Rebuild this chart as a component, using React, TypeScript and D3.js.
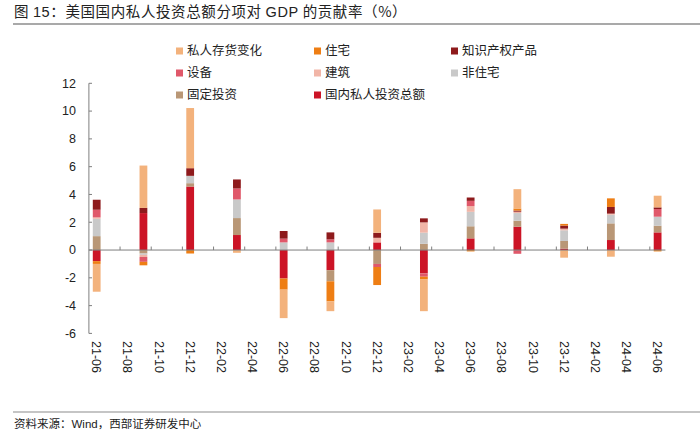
import React from "react";
import * as d3 from "d3";

const categories = ["21-06","21-09","21-12","22-03","22-06","22-09","22-12","23-03","23-06","23-09","23-12","24-03","24-06"];
const tickLabels = ["21-06","21-08","21-10","21-12","22-02","22-04","22-06","22-08","22-10","22-12","23-02","23-04","23-06","23-08","23-10","23-12","24-02","24-04","24-06"];
const yTicks = [-6, -4, -2, 0, 2, 4, 6, 8, 10, 12];

const seriesNames = ["国内私人投资总额","固定投资","非住宅","建筑","设备","知识产权产品","住宅","私人存货变化"];
const seriesColors = ["#CC1426","#B99776","#C9C9C9","#F1B5A7","#E0586A","#8E1A1C","#EE7E14","#F3B27C"];

const totalInv = [-0.8, 2.66, 4.57, 1.08, -2.05, -1.45, 0.55, -1.68, 0.84, 1.68, 0.1, 0.72, 1.27];
const fixedInv = [1.0, -0.25, 0.24, 1.22, 0, -0.8, -1.0, 0.45, 0.87, 0.43, 0.55, 1.2, 0.48];
const nonRes = [1.25, -0.1, 0.53, 1.34, 0.55, 0.55, 0, 0.8, 1.04, 0.55, 0.77, 0.62, 0.65];
const structures = [0.1, -0.15, 0, 0, 0, 0, 0.33, 0.74, 0.41, 0.1, 0.12, 0.08, 0];
const equipment = [0.55, -0.35, 0, 0.79, 0.27, 0.22, -0.22, -0.24, 0.38, -0.27, 0, 0, 0.55];
const ipProducts = [0.72, 0.37, 0.55, 0.65, 0.55, 0.5, 0.36, 0.29, 0.24, 0.08, 0.22, 0.48, 0.12];
const residential = [-0.2, -0.25, -0.25, 0, -0.8, -1.45, -1.3, -0.2, -0.1, 0.15, 0.12, 0.62, -0.1];
const inventories = [-2.0, 3.05, 4.33, -0.2, -2.05, -0.7, 1.68, -2.28, 0, 1.39, -0.55, -0.48, 0.84];

const seriesValues = [totalInv, fixedInv, nonRes, structures, equipment, ipProducts, residential, inventories];

// month list from 21-06 to 24-06
const months: string[] = [];
for (let i = 0; i <= 36; i++) {
  const m = 6 + i - 1;
  const y = 21 + Math.floor(m / 12);
  const mm = (m % 12) + 1;
  months.push(`${y}-${String(mm).padStart(2, "0")}`);
}

const W = 700, H = 433;
const FONT = "'Liberation Sans', Arial, sans-serif";
const CJK = "'Noto Sans CJK SC', sans-serif";

export default function App() {
  const x = d3.scaleBand<string>().domain(months).range([88.9, 665.4]).padding(0);
  const y = d3.scaleLinear().domain([-6, 12]).range([333.4, 83.3]);
  const bw = x.bandwidth() * 0.5;

  const rows = categories.map((c, i) => {
    const r: any = { cat: c };
    seriesNames.forEach((n, k) => (r[n] = seriesValues[k][i]));
    return r;
  });
  const stack = d3.stack<any>().keys(seriesNames).order(d3.stackOrderNone).offset(d3.stackOffsetDiverging);
  const layers = stack(rows);

  const legendOrder = [...seriesNames].reverse();
  const colX = [176, 314, 451];
  const rowY = [51, 73, 95];

  return (
    <svg width={W} height={H} style={{ position: "absolute", left: 0, top: 0, background: "#fff" }}>
      <text x={14} y={17} fontFamily={CJK} fontSize={14.5} letterSpacing={0.6} fill="#222">
        图 <tspan fontFamily={FONT}>15</tspan>：美国国内私人投资总额分项对 <tspan fontFamily={FONT}>GDP</tspan> 的贡献率（%）
      </text>
      <line x1={13} x2={700} y1={24} y2={24} stroke="#8c8c8c" strokeWidth={1.6} />

      {legendOrder.map((n, i) => {
        const k = seriesNames.indexOf(n);
        const cx = colX[i % 3];
        const cy = rowY[Math.floor(i / 3)];
        return (
          <g key={n}>
            <rect x={cx} y={cy - 3.5} width={7} height={7} fill={seriesColors[k]} />
            <text x={cx + 11} y={cy} dy="0.35em" fontFamily={CJK} fontSize={12.5} fill="#222">{n}</text>
          </g>
        );
      })}

      {layers.map((layer, k) => (
        <g key={layer.key} fill={seriesColors[k]}>
          {layer.map((d, i) => {
            const y0 = y(d[0]), y1 = y(d[1]);
            const top = Math.min(y0, y1), h = Math.abs(y1 - y0);
            if (h < 0.01) return null;
            const cx = (x(categories[i]) as number) + x.bandwidth() / 2;
            return <rect key={i} x={cx - bw / 2} y={top} width={bw} height={h} />;
          })}
        </g>
      ))}

      {/* y axis */}
      <line x1={88.9} x2={88.9} y1={y(12)} y2={y(-6)} stroke="#7f7f7f" strokeWidth={1} />
      {yTicks.map((t) => (
        <g key={t}>
          <line x1={88.9} x2={92} y1={y(t)} y2={y(t)} stroke="#7f7f7f" />
          <text x={76} y={y(t)} dy="0.35em" textAnchor="end" fontFamily={FONT} fontSize={12.5} fill="#222">{t}</text>
        </g>
      ))}

      {/* x axis at zero */}
      <line x1={88.9} x2={665.4} y1={y(0)} y2={y(0)} stroke="#7f7f7f" strokeWidth={1} />
      {months.map((m, i) =>
        i > 0 && i % 2 === 0 ? (
          <line key={m} x1={x(m) as number} x2={x(m) as number} y1={y(0)} y2={y(0) - 3.5} stroke="#7f7f7f" />
        ) : null
      )}
      {tickLabels.map((l) => {
        const cx = (x(l) as number) + x.bandwidth() / 2;
        return (
          <text key={l} transform={`translate(${cx},341) rotate(90)`} dy="0.35em" fontFamily={FONT} fontSize={12.5} fill="#222">{l}</text>
        );
      })}

      <line x1={13} x2={700} y1={412} y2={412} stroke="#8c8c8c" strokeWidth={1.2} />
      <text x={14} y={428} fontFamily={CJK} fontSize={11.5} fill="#222">
        资料来源：<tspan fontFamily={FONT}>Wind</tspan>，西部证券研发中心
      </text>
    </svg>
  );
}
